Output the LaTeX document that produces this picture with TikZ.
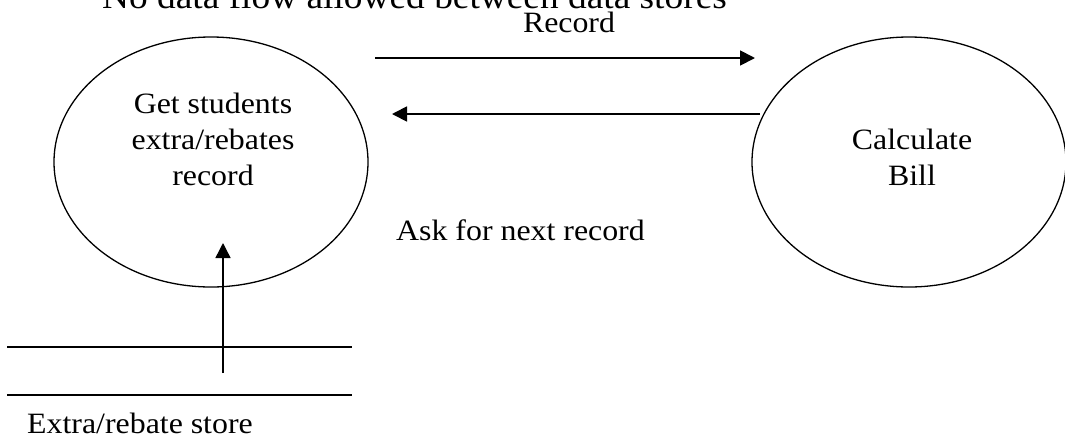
\documentclass[tikz,border=0pt]{standalone}
\usepackage{fontspec}
\setmainfont{Liberation Serif}[FakeStretch=1.08]
\usetikzlibrary{arrows.meta,shapes.geometric}

\begin{document}
\begin{tikzpicture}[x=1pt,y=-1pt,
    process/.style={ellipse,draw,line width=1.3pt,minimum width=314pt,minimum height=250pt,inner sep=0pt},
    bodytext/.style={font=\fontsize{29.5}{36}\selectfont,inner sep=0pt,align=center},
    flow/.style={line width=1.8pt,-{Triangle[length=15pt,width=15pt]}},
    storeflow/.style={line width=1.4pt,-{Triangle[length=15pt,width=15pt]}},
    storeline/.style={line width=1.5pt}]
  \useasboundingbox (0,0) rectangle (1065,440);
  \clip (0,0) rectangle (1065,440);

  % heading
  \node[anchor=base west,inner sep=0pt,font=\fontsize{34.6}{40}\selectfont] (heading) at (102,8)
    {No data flow allowed between data stores};

  % processes (multi-line labels are placed by the baseline of their last line)
  \node[process] (getrec) at (211,162) {};
  \node[process] (calc) at (909,162) {};
  \node[bodytext,anchor=base] (getrectxt) at (213,185) {Get students\\extra/rebates\\record};
  \node[bodytext,anchor=base] (calctxt) at (912,185) {Calculate\\Bill};

  % record flow and request flow
  \coordinate (recfrom) at (375,58);
  \coordinate (recto) at (755,58);
  \draw[flow] (recfrom) -- (recto);
  \node[bodytext,anchor=base] (reclabel) at (569,32) {Record};

  \coordinate (askfrom) at (760,114);
  \coordinate (askto) at (392,114);
  \draw[flow] (askfrom) -- (askto);
  \node[bodytext,anchor=base west] (asklabel) at (396,240) {Ask for next record};

  % data store
  \coordinate (storetopl) at (7,347);
  \coordinate (storetopr) at (352,347);
  \coordinate (storebotl) at (7,395);
  \coordinate (storebotr) at (352,395);
  \draw[storeline] (storetopl) -- (storetopr);
  \draw[storeline] (storebotl) -- (storebotr);
  \node[bodytext,anchor=base west] (storelabel) at (27,433) {Extra/rebate store};

  \coordinate (readfrom) at (223,373);
  \coordinate (readto) at (223,243);
  \draw[storeflow] (readfrom) -- (readto);
\end{tikzpicture}
\end{document}
